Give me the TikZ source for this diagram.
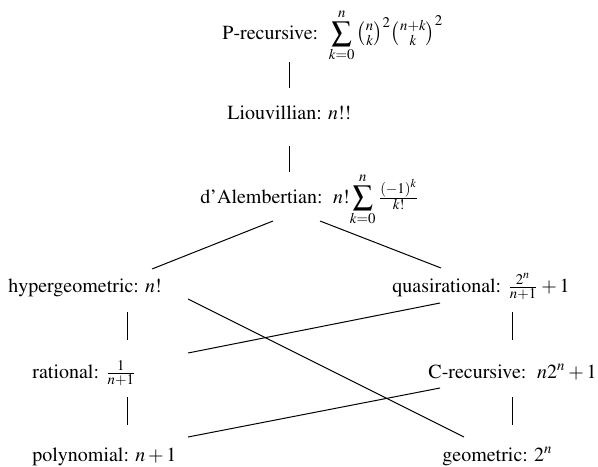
\documentclass[tikz,border=0pt]{standalone}
\usepackage[T1]{fontenc}
\usepackage{mathptmx}
\usepackage{amsmath}
\usetikzlibrary{calc}
\begin{document}
\begin{tikzpicture}[x=0.5pt,y=-0.5pt,
  lbl/.style={anchor=base west,inner sep=0pt,font=\rmfamily\fontsize{10pt}{12pt}\selectfont},
  link/.style={draw=black,line width=0.5pt}]
\useasboundingbox (0,0) rectangle (598,466);
\node[lbl] (prec) at (222,39) {P-recursive: $\;\displaystyle\sum_{k=0}^{n}\tbinom{n}{k}^{2}\tbinom{n+k}{k}^{2}$};
\node[lbl] (liou) at (227,119) {Liouvillian: $n!!$};
\node[lbl] (dal) at (200,203) {d'Alembertian: $\;n!\!\displaystyle\sum_{k=0}^{n}\tfrac{(-1)^k}{k!}$};
\node[lbl] (hyp) at (8,292) {hypergeometric: $n!$};
\node[lbl] (quasi) at (392,292) {quasirational: $\frac{2^n}{n+1}+1$};
\node[lbl] (rat) at (32,378) {rational: $\frac{1}{n+1}$};
\node[lbl] (crec) at (428,378) {C-recursive: $\;n2^n+1$};
\node[lbl] (poly) at (32,461) {polynomial: $n+1$};
\node[lbl] (geo) at (442,461) {geometric: $2^n$};
\draw[link] ($(prec.base west)+(67,23)$) -- ($(liou.base west)+(62,-31)$);
\draw[link] ($(liou.base west)+(62,27)$) -- ($(dal.base west)+(89,-31)$);
\draw[link] ($(dal.base west)+(73,18)$) -- ($(hyp.base west)+(144,-23)$);
\draw[link] ($(dal.base west)+(120,18)$) -- ($(quasi.base west)+(49,-24)$);
\draw[link] ($(hyp.base west)+(119,20)$) -- ($(rat.base west)+(95,-38)$);
\draw[link] ($(rat.base west)+(95,19)$) -- ($(poly.base west)+(95,-36)$);
\draw[link] ($(quasi.base west)+(120,20)$) -- ($(crec.base west)+(84,-38)$);
\draw[link] ($(crec.base west)+(84,19)$) -- ($(geo.base west)+(70,-36)$);
\draw[link] ($(hyp.base west)+(180,7)$) -- ($(geo.base west)+(22,-24)$);
\draw[link] ($(rat.base west)+(156,-25)$) -- ($(quasi.base west)+(48,11)$);
\draw[link] ($(poly.base west)+(156,-24)$) -- ($(crec.base west)+(12,10)$);
\end{tikzpicture}
\end{document}
